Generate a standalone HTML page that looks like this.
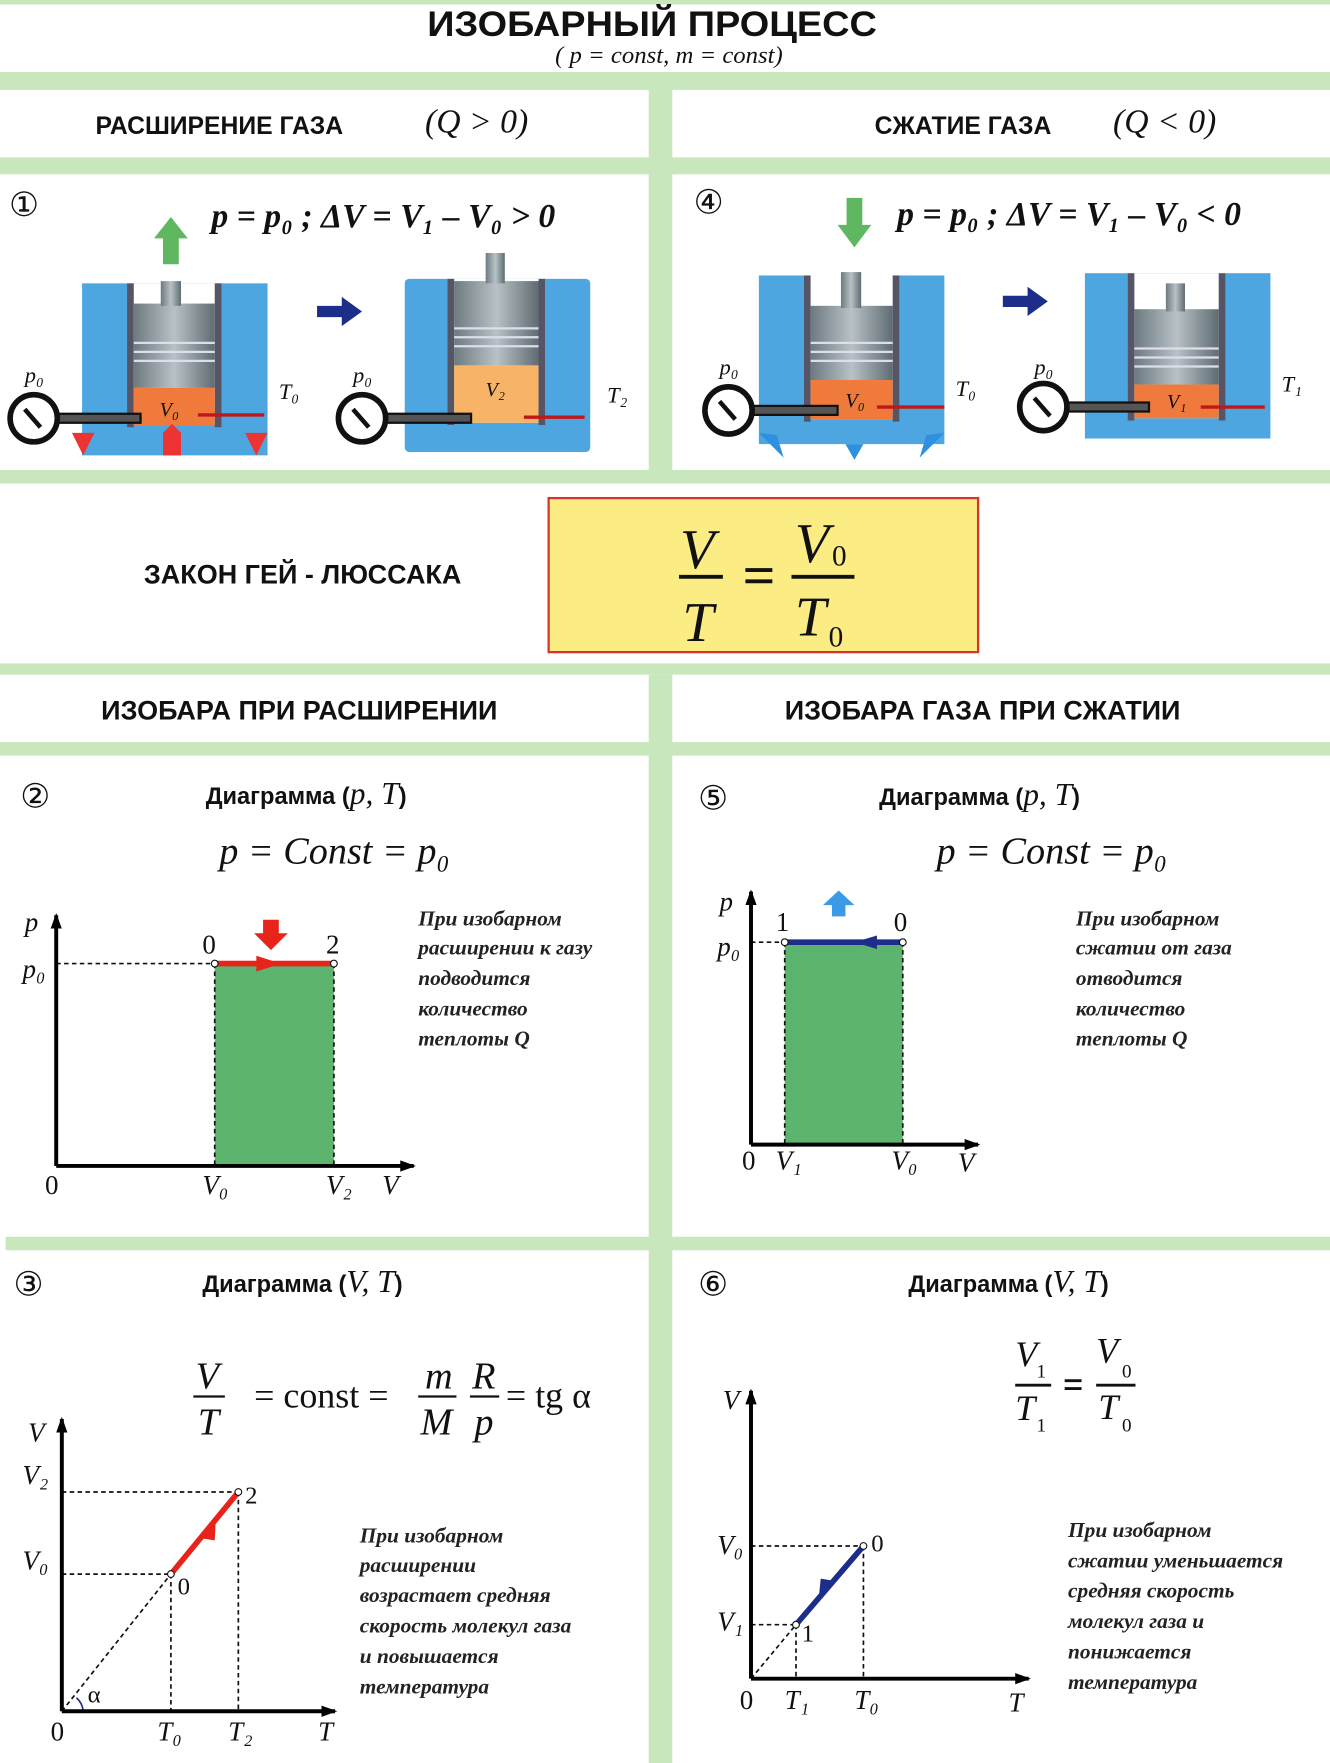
<!DOCTYPE html>
<html><head><meta charset="utf-8"><style>
html,body{margin:0;padding:0;background:#fff;}
svg{display:block;}
.h{font-family:"Liberation Sans",sans-serif;font-weight:bold;fill:#111;}
.m{font-family:"Liberation Serif",serif;font-style:italic;fill:#111;}
.r{font-family:"Liberation Serif",serif;fill:#111;}
.t{font-family:"Liberation Serif",serif;font-style:italic;font-weight:bold;fill:#222;font-size:19px;}
</style></head><body>
<svg width="1330" height="1763" viewBox="0 0 1183 1568" preserveAspectRatio="none" xmlns="http://www.w3.org/2000/svg">
<defs>
<linearGradient id="cy" x1="0" x2="1"><stop offset="0" stop-color="#6d7a80"/><stop offset=".5" stop-color="#b8c2c6"/><stop offset="1" stop-color="#5f6c72"/></linearGradient>
<marker id="ah" markerUnits="userSpaceOnUse" markerWidth="16" markerHeight="12" refX="12" refY="6" orient="auto"><path d="M0,1 L14,6 L0,11 z" fill="#000"/></marker>
</defs>
<rect width="1183" height="1568" fill="#fff"/>
<g fill="#c9e7bd">
<rect x="0" y="0" width="1183" height="4"/>
<rect x="0" y="64" width="1183" height="16"/>
<rect x="0" y="140" width="1183" height="15"/>
<rect x="0" y="418" width="1183" height="12"/>
<rect x="0" y="590" width="1183" height="10"/>
<rect x="0" y="660" width="1183" height="12"/>
<rect x="5" y="1100" width="1178" height="12"/>
<rect x="577" y="80" width="21" height="338"/>
<rect x="577" y="600" width="21" height="968"/>
</g>
<text class="h" x="580" y="32" font-size="31" text-anchor="middle" textLength="400" lengthAdjust="spacingAndGlyphs">ИЗОБАРНЫЙ ПРОЦЕСС</text>
<text class="m" x="595" y="56" font-size="22" text-anchor="middle">( p = const,   m = const)</text>
<text class="h" x="85" y="119" font-size="22">РАСШИРЕНИЕ ГАЗА</text>
<text class="m" x="378" y="118" font-size="30">(Q &gt; 0)</text>
<text class="h" x="778" y="119" font-size="22">СЖАТИЕ ГАЗА</text>
<text class="m" x="990" y="118" font-size="30">(Q &lt; 0)</text>

<text class="r" x="8" y="192" font-size="30">①</text>
<text class="m" x="188" y="202" font-size="30" font-weight="bold">p = p₀ ;  ΔV = V₁ – V₀ &gt; 0</text>
<text class="r" x="617" y="190" font-size="30">④</text>
<text class="m" x="798" y="200" font-size="30" font-weight="bold">p = p₀ ;  ΔV = V₁ – V₀ &lt; 0</text>

<rect x="73" y="252" width="165" height="153" fill="#4ea6e0"/>
<rect x="113" y="252" width="84" height="126" fill="#fff"/>
<rect x="113" y="252" width="6" height="128" fill="#556"/><rect x="191" y="252" width="6" height="128" fill="#556"/>
<rect x="119" y="270" width="72" height="75" fill="url(#cy)"/>
<g stroke="#dde" stroke-width="2"><line x1="119" y1="305" x2="191" y2="305"/><line x1="119" y1="313" x2="191" y2="313"/><line x1="119" y1="321" x2="191" y2="321"/></g>
<rect x="143" y="250" width="18" height="22" fill="url(#cy)"/>
<rect x="119" y="345" width="72" height="33" fill="#f07a3c"/>
<text class="m" x="142" y="370" font-size="18">V₀</text>
<path d="M145 235 V212 H137 L152 193 L167 212 H159 V235 Z" fill="#5fb85f"/>
<path d="M64 385 l10 20 l10 -20 z M145 385 l8 -8 l8 8 v20 h-16 z M218 385 l10 20 l10 -20z" fill="#e33"/>
<rect x="360" y="248" width="165" height="154" fill="#4ea6e0" rx="4"/>
<rect x="398" y="248" width="87" height="128" fill="#fff"/>
<rect x="398" y="248" width="6" height="130" fill="#556"/><rect x="479" y="248" width="6" height="130" fill="#556"/>
<rect x="404" y="250" width="75" height="75" fill="url(#cy)"/>
<g stroke="#dde" stroke-width="2"><line x1="404" y1="292" x2="479" y2="292"/><line x1="404" y1="300" x2="479" y2="300"/><line x1="404" y1="308" x2="479" y2="308"/></g>
<rect x="432" y="225" width="17" height="27" fill="url(#cy)"/>
<rect x="404" y="325" width="75" height="51" fill="#f8b466"/>
<text class="m" x="432" y="352" font-size="18">V₂</text>
<path d="M282 272 h22 v-8 l18 13 l-18 13 v-8 h-22z" fill="#1d2e8a"/>
<rect x="675" y="245" width="165" height="150" fill="#4ea6e0"/>
<rect x="715" y="245" width="85" height="128" fill="#fff"/>
<rect x="715" y="245" width="6" height="130" fill="#556"/><rect x="794" y="245" width="6" height="130" fill="#556"/>
<rect x="721" y="272" width="73" height="66" fill="url(#cy)"/>
<g stroke="#dde" stroke-width="2"><line x1="721" y1="305" x2="794" y2="305"/><line x1="721" y1="313" x2="794" y2="313"/><line x1="721" y1="321" x2="794" y2="321"/></g>
<rect x="748" y="242" width="18" height="32" fill="url(#cy)"/>
<rect x="721" y="338" width="73" height="35" fill="#f07a3c"/>
<text class="m" x="752" y="362" font-size="18">V₀</text>
<path d="M753 176 V200 H745 L760 220 L775 200 H767 V176 Z" fill="#5fb85f"/>
<path d="M675 385 l22 22 l-6 -20 z M752 395 h16 l-8 14 z M840 385 l-22 22 l6 -20z" fill="#2f8fe0"/>
<rect x="965" y="243" width="165" height="147" fill="#4ea6e0"/>
<rect x="1003" y="243" width="87" height="129" fill="#fff"/>
<rect x="1003" y="243" width="6" height="131" fill="#556"/><rect x="1084" y="243" width="6" height="131" fill="#556"/>
<rect x="1009" y="275" width="75" height="67" fill="url(#cy)"/>
<g stroke="#dde" stroke-width="2"><line x1="1009" y1="310" x2="1084" y2="310"/><line x1="1009" y1="318" x2="1084" y2="318"/><line x1="1009" y1="326" x2="1084" y2="326"/></g>
<rect x="1037" y="252" width="17" height="25" fill="url(#cy)"/>
<rect x="1009" y="342" width="75" height="30" fill="#f07a3c"/>
<text class="m" x="1038" y="363" font-size="18">V₁</text>
<path d="M892 263 h22 v-8 l18 13 l-18 13 v-8 h-22z" fill="#1d2e8a"/>
<g stroke="#111" stroke-width="5" fill="#fff">
<rect x="52" y="368" width="73" height="8" stroke-width="2" fill="#555"/>
<rect x="344" y="368" width="75" height="8" stroke-width="2" fill="#555"/>
<rect x="670" y="361" width="75" height="8" stroke-width="2" fill="#555"/>
<rect x="950" y="358" width="72" height="8" stroke-width="2" fill="#555"/>
<circle cx="30" cy="372" r="21"/><circle cx="322" cy="372" r="21"/><circle cx="648" cy="365" r="21"/><circle cx="928" cy="362" r="21"/>
</g>
<g stroke="#111" stroke-width="4"><line x1="22" y1="364" x2="36" y2="380"/><line x1="314" y1="364" x2="328" y2="380"/><line x1="640" y1="357" x2="654" y2="373"/><line x1="920" y1="354" x2="934" y2="370"/></g>
<g stroke="#c01818" stroke-width="3"><line x1="176" y1="369" x2="235" y2="369"/><line x1="466" y1="371" x2="520" y2="371"/><line x1="780" y1="362" x2="840" y2="362"/><line x1="1068" y1="362" x2="1125" y2="362"/></g>
<g class="m" font-size="20"><text x="22" y="340">p₀</text><text x="314" y="340">p₀</text><text x="640" y="333">p₀</text><text x="920" y="333">p₀</text>
<text x="248" y="355">T₀</text><text x="540" y="358">T₂</text><text x="850" y="352">T₀</text><text x="1140" y="348">T₁</text></g>

<text class="h" x="128" y="519" font-size="24">ЗАКОН ГЕЙ - ЛЮССАКА</text>
<rect x="488" y="443" width="382" height="137" fill="#fbec84" stroke="#d8332a" stroke-width="2"/>
<g class="m" font-size="50"><text x="605" y="505">V</text><text x="607" y="570">T</text><text x="707" y="500">V</text><text x="707" y="565">T</text></g>
<g class="r" font-size="26"><text x="740" y="503">0</text><text x="737" y="575">0</text></g>
<g stroke="#111" stroke-width="3.5"><line x1="604" y1="513" x2="643" y2="513"/><line x1="704" y1="513" x2="760" y2="513"/><line x1="663" y1="507" x2="687" y2="507"/><line x1="663" y1="517" x2="687" y2="517"/></g>

<text class="h" x="90" y="640" font-size="24">ИЗОБАРА ПРИ РАСШИРЕНИИ</text>
<text class="h" x="698" y="640" font-size="24">ИЗОБАРА ГАЗА ПРИ СЖАТИИ</text>

<text class="r" x="18" y="718" font-size="30">②</text>
<text class="h" x="183" y="715" font-size="21">Диаграмма (<tspan class="m" font-size="28" font-weight="normal">p, T</tspan>)</text>
<text class="m" x="195" y="768" font-size="34">p = Const = p₀</text>
<rect x="191" y="857" width="106" height="180" fill="#5cb46e"/>
<g stroke="#111" stroke-width="1.5" stroke-dasharray="4,3" fill="none"><line x1="50" y1="857" x2="191" y2="857"/><line x1="191" y1="857" x2="191" y2="1037"/><line x1="297" y1="857" x2="297" y2="1037"/></g>
<line x1="191" y1="857" x2="297" y2="857" stroke="#e8231a" stroke-width="5"/>
<path d="M228 850 l22 7 l-22 7z" fill="#e8231a"/>
<path d="M234 818 h14 v12 h8 l-15 15 l-15 -15 h8z" fill="#e8231a"/>
<circle cx="191" cy="857" r="3" fill="#fff" stroke="#111"/><circle cx="297" cy="857" r="3" fill="#fff" stroke="#111"/>
<g stroke="#000" stroke-width="3.5" fill="none"><line x1="50" y1="1037" x2="50" y2="814" marker-end="url(#ah)"/><line x1="50" y1="1037" x2="368" y2="1037" marker-end="url(#ah)"/></g>
<g class="m" font-size="24"><text x="22" y="828">p</text><text x="20" y="870">p₀</text><text x="180" y="1062">V₀</text><text x="290" y="1062">V₂</text><text x="340" y="1062">V</text></g>
<g class="r" font-size="24"><text x="40" y="1062">0</text><text x="180" y="848">0</text><text x="290" y="848">2</text></g>
<g class="t"><text x="372" y="823">При изобарном</text><text x="372" y="849">расширении к газу</text><text x="372" y="876">подводится</text><text x="372" y="903">количество</text><text x="372" y="930">теплоты Q</text></g>

<text class="r" x="621" y="720" font-size="30">⑤</text>
<text class="h" x="782" y="716" font-size="21">Диаграмма (<tspan class="m" font-size="28" font-weight="normal">p, T</tspan>)</text>
<text class="m" x="833" y="768" font-size="34">p = Const = p₀</text>
<rect x="698" y="838" width="105" height="180" fill="#5cb46e"/>
<g stroke="#111" stroke-width="1.5" stroke-dasharray="4,3" fill="none"><line x1="668" y1="838" x2="698" y2="838"/><line x1="698" y1="838" x2="698" y2="1018"/><line x1="803" y1="838" x2="803" y2="1018"/></g>
<line x1="698" y1="838" x2="803" y2="838" stroke="#1d2e8a" stroke-width="5"/>
<path d="M780 832 l-20 6 l20 6z" fill="#1d2e8a"/>
<path d="M740 815 v-10 h-8 l14 -13 l14 13 h-8 v10z" fill="#3a9ae8"/>
<circle cx="698" cy="838" r="3" fill="#fff" stroke="#111"/><circle cx="803" cy="838" r="3" fill="#fff" stroke="#111"/>
<g stroke="#000" stroke-width="3.5" fill="none"><line x1="668" y1="1018" x2="668" y2="793" marker-end="url(#ah)"/><line x1="668" y1="1018" x2="870" y2="1018" marker-end="url(#ah)"/></g>
<g class="m" font-size="24"><text x="640" y="810">p</text><text x="638" y="850">p₀</text><text x="690" y="1040">V₁</text><text x="793" y="1040">V₀</text><text x="852" y="1042">V</text></g>
<g class="r" font-size="24"><text x="660" y="1040">0</text><text x="690" y="828">1</text><text x="795" y="828">0</text></g>
<g class="t"><text x="957" y="823">При изобарном</text><text x="957" y="849">сжатии от газа</text><text x="957" y="876">отводится</text><text x="957" y="903">количество</text><text x="957" y="930">теплоты Q</text></g>

<text class="r" x="12" y="1152" font-size="30">③</text>
<text class="h" x="180" y="1149" font-size="21">Диаграмма (<tspan class="m" font-size="28" font-weight="normal">V, T</tspan>)</text>
<g class="m" font-size="34"><text x="174" y="1235">V</text><text x="176" y="1276">T</text><text x="378" y="1235">m</text><text x="374" y="1276">M</text><text x="420" y="1235">R</text><text x="422" y="1276">p</text></g>
<g stroke="#111" stroke-width="2"><line x1="172" y1="1242" x2="200" y2="1242"/><line x1="372" y1="1242" x2="406" y2="1242"/><line x1="418" y1="1242" x2="444" y2="1242"/></g>
<text class="r" x="226" y="1252" font-size="32">= const =</text>
<text class="r" x="450" y="1252" font-size="32">= tg α</text>
<g stroke="#111" stroke-width="1.5" stroke-dasharray="4,3" fill="none"><line x1="55" y1="1522" x2="152" y2="1400"/><line x1="55" y1="1400" x2="152" y2="1400"/><line x1="152" y1="1400" x2="152" y2="1522"/><line x1="55" y1="1327" x2="212" y2="1327"/><line x1="212" y1="1327" x2="212" y2="1522"/></g>
<line x1="152" y1="1400" x2="212" y2="1327" stroke="#e8231a" stroke-width="5"/>
<path d="M178 1368 l14 -18 l-1 20z" fill="#e8231a"/>
<circle cx="152" cy="1400" r="3" fill="#fff" stroke="#111"/><circle cx="212" cy="1327" r="3" fill="#fff" stroke="#111"/>
<path d="M68 1510 a18 18 0 0 1 6 12" stroke="#1d2e8a" stroke-width="1.5" fill="none"/>
<g stroke="#000" stroke-width="3.5" fill="none"><line x1="55" y1="1522" x2="55" y2="1262" marker-end="url(#ah)"/><line x1="55" y1="1522" x2="298" y2="1522" marker-end="url(#ah)"/></g>
<g class="m" font-size="24"><text x="25" y="1282">V</text><text x="20" y="1320">V₂</text><text x="20" y="1396">V₀</text><text x="140" y="1548">T₀</text><text x="203" y="1548">T₂</text><text x="283" y="1548">T</text></g>
<g class="r" font-size="22"><text x="45" y="1548" font-size="24">0</text><text x="158" y="1418">0</text><text x="218" y="1337">2</text><text x="78" y="1514" font-style="normal">α</text></g>
<g class="t"><text x="320" y="1372">При изобарном</text><text x="320" y="1398">расширении</text><text x="320" y="1425">возрастает средняя</text><text x="320" y="1452">скорость молекул газа</text><text x="320" y="1479">и повышается</text><text x="320" y="1506">температура</text></g>

<text class="r" x="621" y="1152" font-size="30">⑥</text>
<text class="h" x="808" y="1149" font-size="21">Диаграмма (<tspan class="m" font-size="28" font-weight="normal">V, T</tspan>)</text>
<g class="m" font-size="32"><text x="903" y="1215">V</text><text x="903" y="1263">T</text><text x="975" y="1212">V</text><text x="977" y="1262">T</text></g>
<g class="r" font-size="17"><text x="922" y="1225">1</text><text x="922" y="1273">1</text><text x="998" y="1225">0</text><text x="998" y="1273">0</text></g>
<g stroke="#111" stroke-width="2.5"><line x1="903" y1="1232" x2="935" y2="1232"/><line x1="975" y1="1232" x2="1010" y2="1232"/><line x1="947" y1="1228" x2="962" y2="1228"/><line x1="947" y1="1235" x2="962" y2="1235"/></g>
<g stroke="#111" stroke-width="1.5" stroke-dasharray="4,3" fill="none"><line x1="668" y1="1493" x2="708" y2="1445"/><line x1="668" y1="1445" x2="708" y2="1445"/><line x1="708" y1="1445" x2="708" y2="1493"/><line x1="668" y1="1375" x2="768" y2="1375"/><line x1="768" y1="1375" x2="768" y2="1493"/></g>
<line x1="708" y1="1445" x2="768" y2="1375" stroke="#1d2e8a" stroke-width="5"/>
<path d="M742 1406 l-14 18 l2 -20z" fill="#1d2e8a"/>
<circle cx="708" cy="1445" r="3" fill="#fff" stroke="#111"/><circle cx="768" cy="1375" r="3" fill="#fff" stroke="#111"/>
<g stroke="#000" stroke-width="3.5" fill="none"><line x1="668" y1="1493" x2="668" y2="1237" marker-end="url(#ah)"/><line x1="668" y1="1493" x2="915" y2="1493" marker-end="url(#ah)"/></g>
<g class="m" font-size="24"><text x="643" y="1253">V</text><text x="638" y="1382">V₀</text><text x="638" y="1450">V₁</text><text x="698" y="1520">T₁</text><text x="760" y="1520">T₀</text><text x="897" y="1522">T</text></g>
<g class="r" font-size="22"><text x="658" y="1520" font-size="24">0</text><text x="775" y="1380">0</text><text x="713" y="1460">1</text></g>
<g class="t"><text x="950" y="1367">При изобарном</text><text x="950" y="1394">сжатии уменьшается</text><text x="950" y="1421">средняя скорость</text><text x="950" y="1448">молекул газа и</text><text x="950" y="1475">понижается</text><text x="950" y="1502">температура</text></g>
</svg>
</body></html>
